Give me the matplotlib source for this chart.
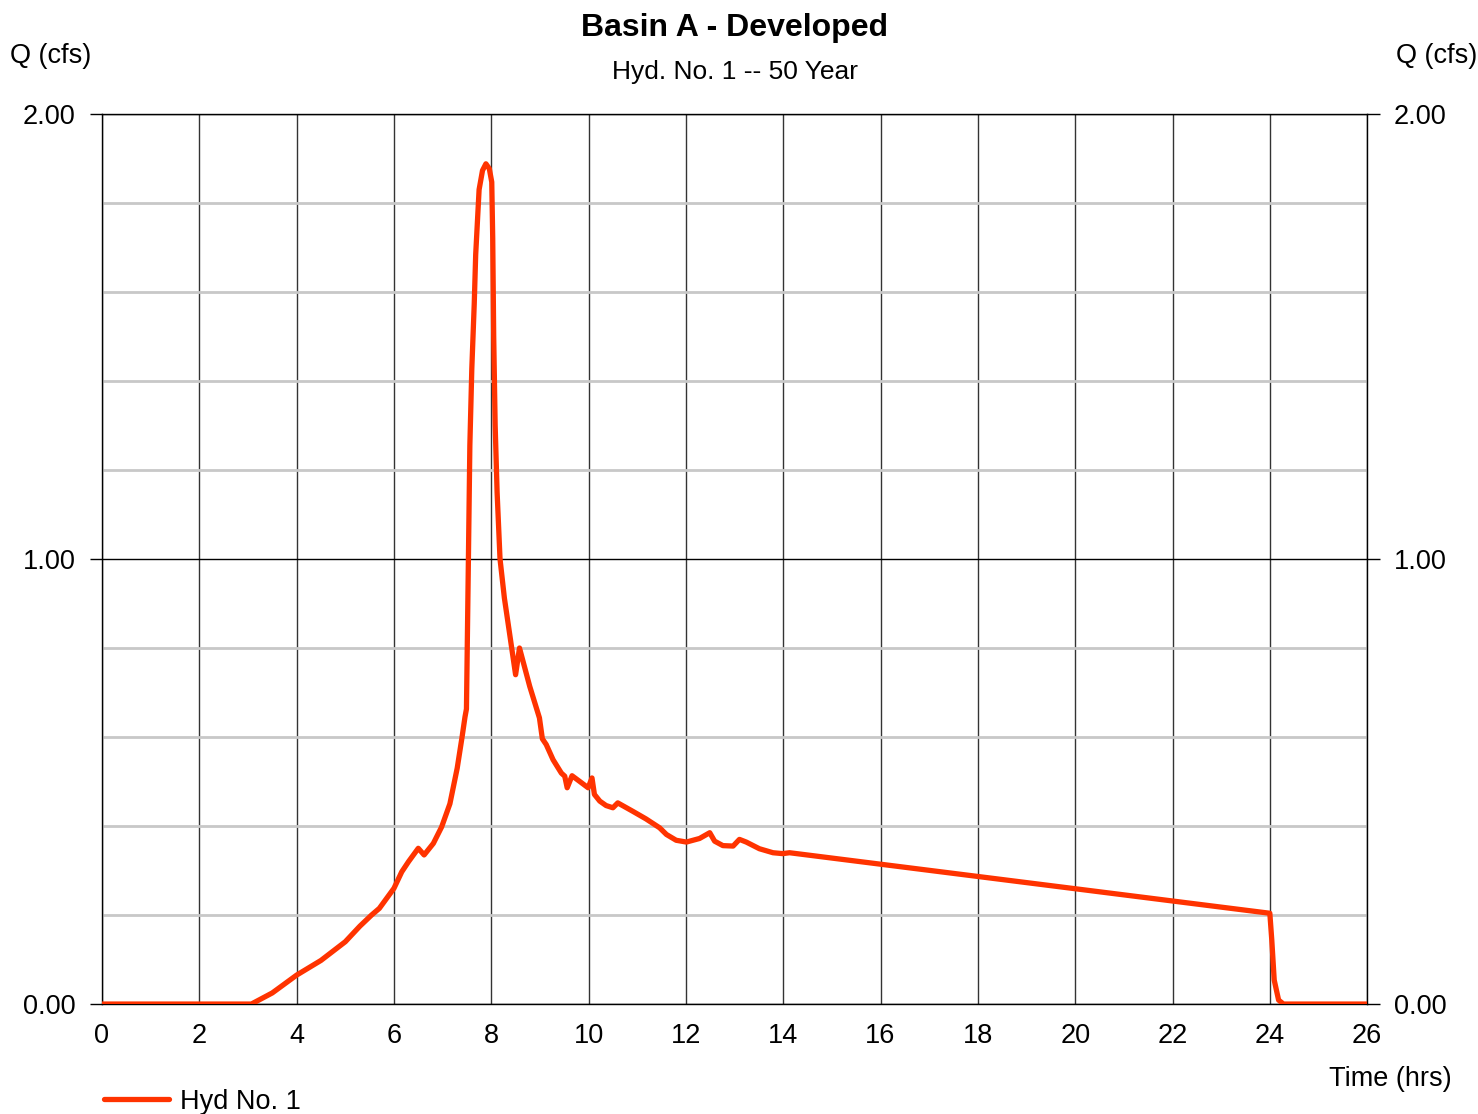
import matplotlib.pyplot as plt
from matplotlib.ticker import MultipleLocator

plt.rcParams['font.family'] = ['Liberation Sans', 'DejaVu Sans']

# hydrograph (hrs, cfs)
time_hrs = [0, 3.07, 3.5, 4.0, 4.5, 5.0, 5.3, 5.54, 5.7, 6.0, 6.16, 6.3, 6.5, 6.62,
            6.81, 6.98, 7.15, 7.3, 7.40, 7.46, 7.49, 7.53, 7.56, 7.60, 7.65, 7.68, 7.75,
            7.82, 7.89, 7.96, 8.01, 8.03, 8.05, 8.08, 8.12, 8.18, 8.27, 8.38, 8.50, 8.58,
            8.79, 8.99, 9.05, 9.13, 9.27, 9.44, 9.51, 9.56, 9.66, 9.82, 9.99, 10.07,
            10.12, 10.23, 10.36, 10.50, 10.60, 10.91, 11.18, 11.46, 11.60, 11.80,
            12.01, 12.28, 12.49, 12.59, 12.76, 12.97, 13.10, 13.24, 13.51, 13.79,
            13.99, 14.13, 24.0, 24.04, 24.09, 24.18, 24.28, 26.0]
flow_cfs = [0, 0, 0.025, 0.065, 0.098, 0.14, 0.175, 0.2, 0.215, 0.26, 0.297, 0.32, 0.35, 0.335,
            0.361, 0.398, 0.45, 0.53, 0.60, 0.645, 0.663, 0.997, 1.255, 1.427, 1.573, 1.684, 1.83,
            1.873, 1.888, 1.877, 1.847, 1.72, 1.50, 1.30, 1.15, 1.0, 0.912, 0.83, 0.74, 0.80,
            0.714, 0.643, 0.596, 0.583, 0.549, 0.519, 0.512, 0.486, 0.513, 0.50, 0.486, 0.508,
            0.471, 0.456, 0.446, 0.441, 0.452, 0.433, 0.416, 0.396, 0.381, 0.368,
            0.364, 0.372, 0.385, 0.366, 0.356, 0.355, 0.370, 0.364, 0.349, 0.340,
            0.338, 0.340, 0.204, 0.144, 0.054, 0.009, 0.0, 0.0]

x_ticks = list(range(0, 27, 2))
y_ticks = [0.0, 1.0, 2.0]

fig = plt.figure(figsize=(14.78, 11.14), dpi=100)
ax = fig.add_axes([0.069, 0.0987, 0.856, 0.799])

ax.plot(time_hrs, flow_cfs, color='#ff3300', lw=3.8, solid_capstyle='round',
        solid_joinstyle='round', label='Hyd No. 1', zorder=5)

ax.set_xlim(0, 26)
ax.set_ylim(0, 2)
ax.set_xticks(x_ticks)
ax.set_yticks(y_ticks)
ax.set_yticklabels(['%.2f' % v for v in y_ticks])
ax.yaxis.set_minor_locator(MultipleLocator(0.2))

ax.grid(which='minor', axis='y', color='#c8c8c8', lw=2)
ax.grid(which='major', axis='y', color='black', lw=1)
ax.grid(which='major', axis='x', color='#333333', lw=1)

ax.tick_params(axis='y', which='major', direction='out', length=9, width=1,
               left=True, right=True, labelleft=True, labelright=True,
               labelsize=19.5, pad=10)
ax.tick_params(axis='y', which='minor', length=0)
ax.tick_params(axis='x', length=0, labelsize=19.5, pad=14)
for s in ax.spines.values():
    s.set_linewidth(1)
    s.set_color('black')

fig.text(0.497, 0.9745, 'Basin A - Developed', ha='center', va='center',
         fontsize=23, fontweight='bold')
fig.text(0.497, 0.935, 'Hyd. No. 1 -- 50 Year', ha='center', va='center', fontsize=19)
fig.text(0.034, 0.950, 'Q (cfs)', ha='center', va='center', fontsize=19.5)
fig.text(0.972, 0.950, 'Q (cfs)', ha='center', va='center', fontsize=19.5)
fig.text(0.941, 0.031, 'Time (hrs)', ha='center', va='center', fontsize=19.5)

ax.legend(loc='center left', bbox_to_anchor=(0.054, 0.011), bbox_transform=fig.transFigure,
          frameon=False, fontsize=19.5, handlelength=2.4, handletextpad=0.4)

fig.savefig('out.png', dpi=100)
